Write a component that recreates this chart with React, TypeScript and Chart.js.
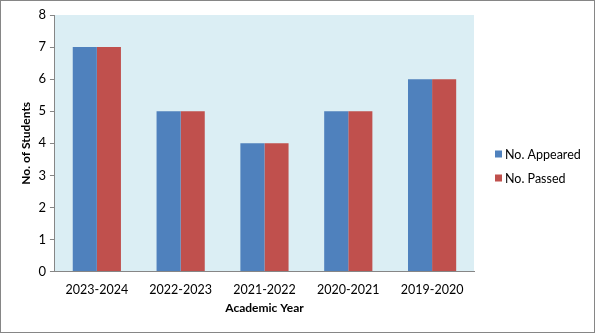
import React, { useEffect, useRef } from "react";
import { Chart, registerables } from "chart.js";

Chart.register(...registerables);

const categories = ["2023-2024", "2022-2023", "2021-2022", "2020-2021", "2019-2020"];
const appeared = [7, 5, 4, 5, 6];
const passed = [7, 5, 4, 5, 6];
const seriesNames = ["No. Appeared", "No. Passed"];
const seriesColors = ["#4f81bd", "#c0504d"];

const FONT = "Lato, 'Open Sans', sans-serif";

const bgPlugin = {
  id: "plotBg",
  beforeDraw(chart: any) {
    const { ctx, chartArea } = chart;
    if (!chartArea) return;
    ctx.save();
    ctx.fillStyle = "#dbeef4";
    ctx.fillRect(chartArea.left, chartArea.top, chartArea.right - chartArea.left, chartArea.bottom - chartArea.top);
    ctx.restore();
  },
};

const legendPlugin = {
  id: "sideLegend",
  afterDraw(chart: any) {
    const { ctx, chartArea } = chart;
    const ds = chart.data.datasets;
    const x0 = chartArea.right + 21;
    const cy = chart.height / 2;
    const gap = 24;
    const startY = cy - ((ds.length - 1) * gap) / 2;
    ctx.save();
    ctx.font = `12.5px ${FONT}`;
    ctx.textBaseline = "middle";
    ctx.textAlign = "left";
    ds.forEach((d: any, i: number) => {
      const y = startY + i * gap;
      ctx.fillStyle = d.backgroundColor;
      ctx.fillRect(x0, y - 4, 7, 7);
      ctx.fillStyle = "#000";
      ctx.fillText(d.label, x0 + 10, y);
    });
    ctx.restore();
  },
};

export default function App() {
  const ref = useRef<HTMLCanvasElement | null>(null);
  useEffect(() => {
    document.body.style.margin = "0";
    const chart = new Chart(ref.current!, {
      type: "bar",
      data: {
        labels: categories,
        datasets: [
          { label: seriesNames[0], data: appeared, backgroundColor: seriesColors[0], barPercentage: 1, categoryPercentage: 0.575 },
          { label: seriesNames[1], data: passed, backgroundColor: seriesColors[1], barPercentage: 1, categoryPercentage: 0.575 },
        ],
      },
      options: {
        animation: false,
        responsive: false,
        maintainAspectRatio: false,
        layout: { padding: { top: 14, right: 120, left: 14, bottom: 13 } },
        plugins: {
          legend: { display: false },
          tooltip: { enabled: false },
        },
        scales: {
          x: {
            grid: { display: false },
            border: { display: true, color: "#868686", width: 1 },
            ticks: { color: "#000", font: { family: FONT, size: 12.5 }, padding: 3 },
            title: { display: true, text: "Academic Year", color: "#000", font: { family: FONT, size: 12, weight: "bold" }, padding: { top: 0 } },
          },
          y: {
            min: 0,
            max: 8,
            grid: { drawOnChartArea: false, drawTicks: true, tickLength: 5, color: "#868686" },
            border: { display: true, color: "#868686", width: 1 },
            ticks: { stepSize: 1, color: "#000", font: { family: FONT, size: 13 }, padding: 4 },
            title: { display: true, text: "No. of Students", color: "#000", font: { family: FONT, size: 12, weight: "bold" }, padding: { bottom: 1 } },
          },
        },
      },
      plugins: [bgPlugin, legendPlugin],
    });
    return () => chart.destroy();
  }, []);
  return (
    <div style={{ position: "absolute", left: 0, top: 0, width: 595, height: 333, border: "1px solid #868686", boxSizing: "border-box", background: "#fff" }}>
      <canvas ref={ref} width={593} height={331} />
    </div>
  );
}
